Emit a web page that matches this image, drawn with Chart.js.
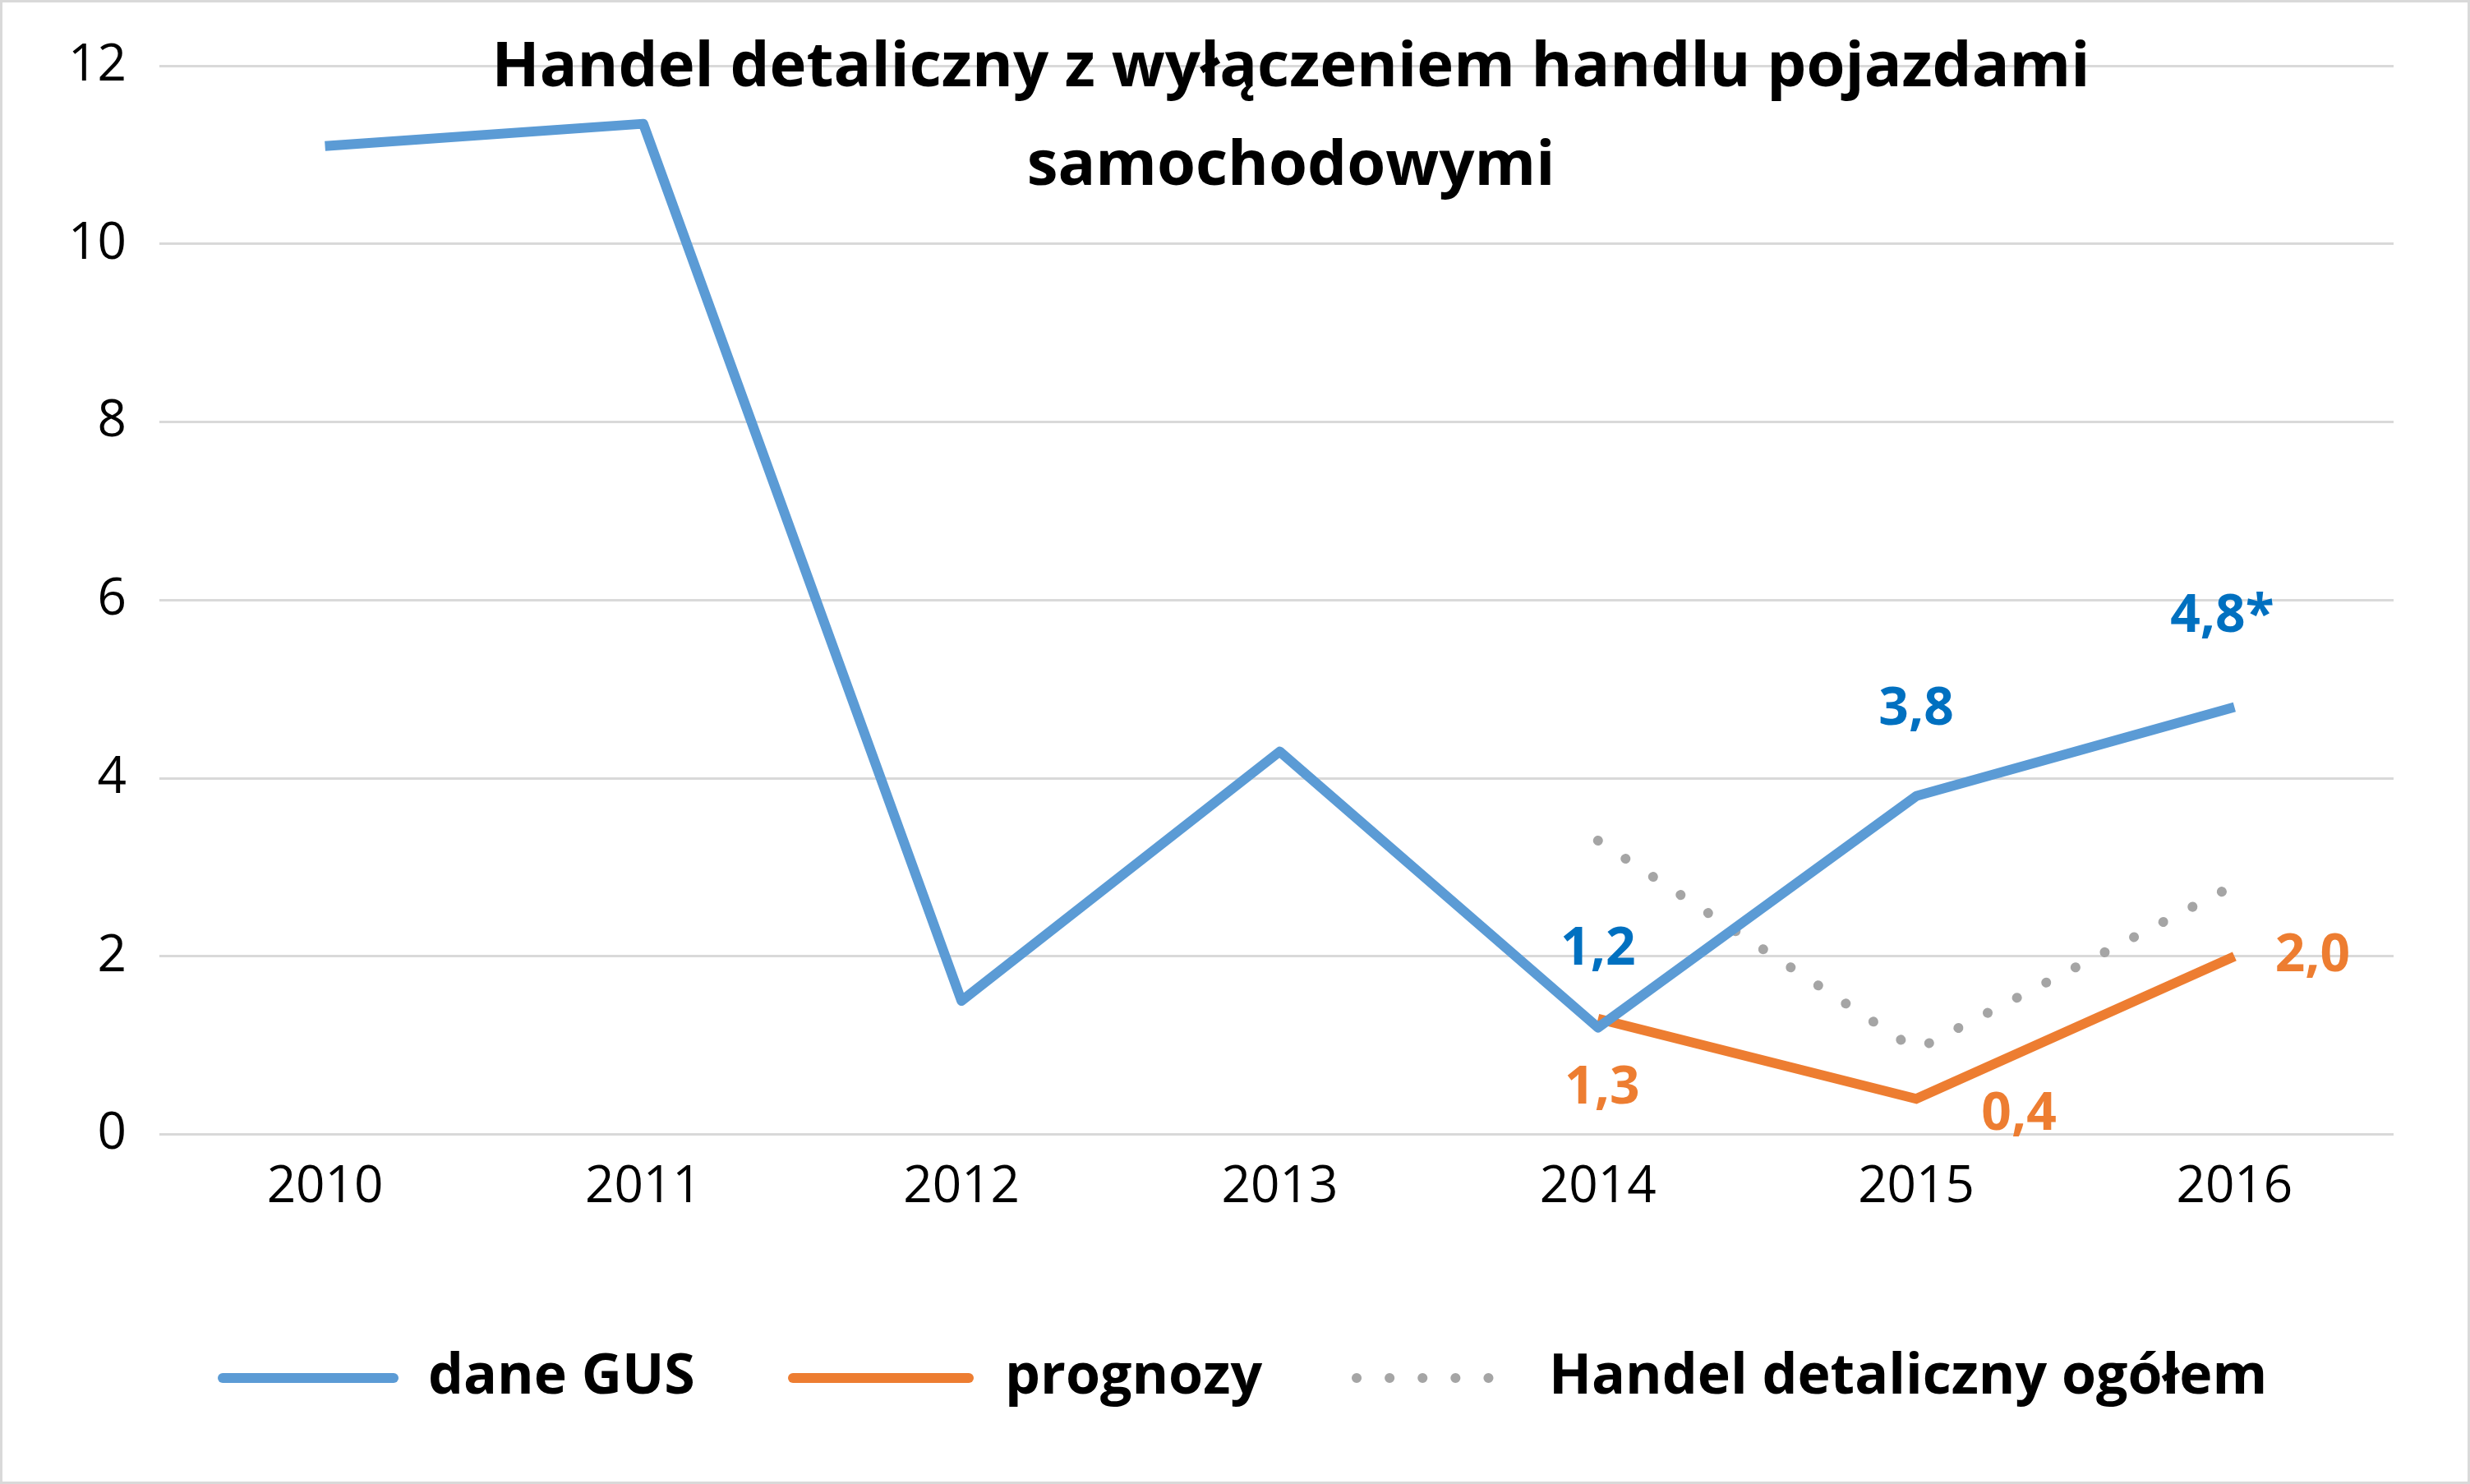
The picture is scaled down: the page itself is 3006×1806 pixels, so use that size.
<!DOCTYPE html>
<html><head><meta charset="utf-8">
<script src="https://cdn.jsdelivr.net/npm/chart.js@4/dist/chart.umd.min.js"></script>
<style>html,body{margin:0;padding:0;background:#fff}#wrap{width:3006px;height:1806px;position:relative;box-sizing:border-box;border:3px solid #d9d9d9}canvas{display:block}</style>
</head><body><div id="wrap"><canvas id="c" width="3000" height="1800"></canvas></div>
<script>
const years = ['2010','2011','2012','2013','2014','2015','2016'];
const daneGUS = [11.1, 11.35, 1.5, 4.3, 1.2, 3.8, 4.8];
const prognozy = [null, null, null, null, 1.3, 0.4, 2.0];
const ogolem = [null, null, null, null, 3.3, 0.95, 2.8];
const gusLabels = [null, null, null, null, '1,2', '3,8', '4,8*'];
const progLabels = [null, null, null, null, '1,3', '0,4', '2,0'];
const yTicks = [0,2,4,6,8,10,12];
const FONT = '"Open Sans", "Liberation Sans", sans-serif';
const BLUE='#5B9BD5', ORANGE='#ED7D31', GRAY='#A5A5A5';

const overlay = {
  id:'overlay',
  afterDatasetsDraw(chart){
    const ctx=chart.ctx, x=chart.scales.x, y=chart.scales.y;
    ctx.save();
    ctx.fillStyle='#000'; ctx.textAlign='center'; ctx.textBaseline='middle';
    ctx.font='bold 76px '+FONT;
    ctx.fillText('Handel detaliczny z wyłączeniem handlu pojazdami',1568,80);
    ctx.fillText('samochodowymi',1568,200);
    ctx.font='bold 64px '+FONT;
    const go=[[0,-95],[0,-105],[-15,-110]];
    gusLabels.forEach((l,i)=>{ if(!l) return; const k=i-4;
      ctx.fillStyle='#0070C0';
      ctx.fillText(l, x.getPixelForValue(i)+go[k][0], y.getPixelForValue(daneGUS[i])+go[k][1]);});
    const po=[[5,85],[125,20],[95,0]];
    progLabels.forEach((l,i)=>{ if(!l) return; const k=i-4;
      ctx.fillStyle=ORANGE;
      ctx.fillText(l, x.getPixelForValue(i)+po[k][0], y.getPixelForValue(prognozy[i])+po[k][1]);});
    const ly=1674;
    ctx.lineCap='round'; ctx.lineWidth=12;
    ctx.strokeStyle=BLUE; ctx.beginPath(); ctx.moveTo(268,ly); ctx.lineTo(476,ly); ctx.stroke();
    ctx.strokeStyle=ORANGE; ctx.beginPath(); ctx.moveTo(962,ly); ctx.lineTo(1176,ly); ctx.stroke();
    ctx.strokeStyle=GRAY; ctx.setLineDash([0.1,40]); ctx.beginPath(); ctx.moveTo(1648,ly); ctx.lineTo(1840,ly); ctx.stroke(); ctx.setLineDash([]);
    ctx.fillStyle='#000'; ctx.textAlign='left'; ctx.font='bold 68px '+FONT;
    ctx.fillText('dane GUS',518,ly); ctx.fillText('prognozy',1220,ly); ctx.fillText('Handel detaliczny ogółem',1882,ly);
    ctx.restore();
  }
};

new Chart(document.getElementById('c'),{
  type:'line',
  data:{labels:years,datasets:[
    {label:'dane GUS',data:daneGUS,borderColor:BLUE,borderWidth:12,pointRadius:0,tension:0,borderJoinStyle:'round'},
    {label:'prognozy',data:prognozy,borderColor:ORANGE,borderWidth:12,pointRadius:0,tension:0},
    {label:'Handel detaliczny ogółem',data:ogolem,borderColor:GRAY,borderWidth:12,borderDash:[0.1,40],borderCapStyle:'round',pointRadius:0,tension:0}
  ]},
  options:{responsive:false,animation:false,devicePixelRatio:1,
    layout:{padding:{left:40,right:90,top:60,bottom:300}},
    plugins:{legend:{display:false},title:{display:false},tooltip:{enabled:false}},
    scales:{
      x:{offset:true,grid:{display:false},border:{display:false},ticks:{color:'#000',font:{size:62,family:FONT},padding:20}},
      y:{min:0,max:12,afterBuildTicks(a){a.ticks=yTicks.map(v=>({value:v}));},
        grid:{color:'#d9d9d9',lineWidth:3},border:{display:false},
        ticks:{color:'#000',font:{size:62,family:FONT},padding:40}}
    }
  },
  plugins:[overlay]
});
</script></body></html>
